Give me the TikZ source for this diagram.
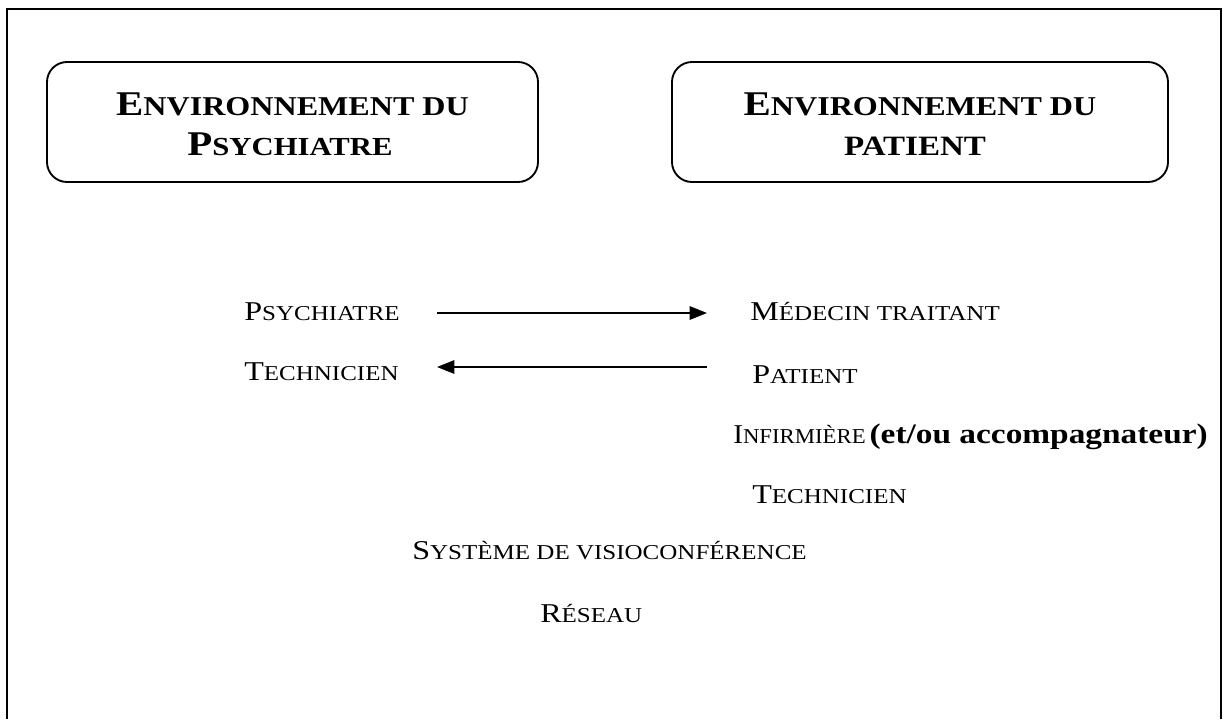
\documentclass[tikz,border=0pt]{standalone}
\usepackage{fontspec}
\usepackage{graphicx}
\setmainfont{Liberation Serif}[FakeStretch=1.18]
\usetikzlibrary{arrows.meta,fit}
\newcommand{\hB}{\fontsize{26}{30}\selectfont}
\newcommand{\hS}{\fontsize{20.4}{24}\selectfont}
\newcommand{\tB}{\fontsize{20.4}{24}\selectfont}
\newcommand{\tS}{\fontsize{15.9}{19}\selectfont}
\newcommand{\tL}{\fontsize{21.2}{24}\selectfont\bfseries}
\tikzset{
  envbox/.style={draw, line width=1.4pt, rounded corners=15pt, inner sep=0pt},
  head/.style={anchor=base, inner sep=0pt, font=\bfseries},
  lbl/.style={anchor=base west, inner sep=0pt},
  flow/.style={line width=1.6pt, -{Triangle[length=13pt,width=10pt]}},
}
\begin{document}
\begin{tikzpicture}[x=0.75pt,y=-0.75pt]
\useasboundingbox (0,0) rectangle (1228,719);
% outer frame (open at bottom)
\draw[line width=1pt] (7,719) -- (7,9) -- (1221,9) -- (1221,719);
% environment boxes
\node[envbox, fit={(47,62) (538,182)}] (lbox) {};
\node[envbox, fit={(672,62) (1168,182)}] (rbox) {};
\node[head] (lh1) at (292.5,115) {\hB E\hS NVIRONNEMENT DU};
\node[head] (lh2) at (290,155) {\hB P\fontsize{19.5}{22}\selectfont SYCHIATRE};
\node[head] (rh1) at (920,115) {\hB E\hS NVIRONNEMENT DU};
\node[head] (rh2) at (915,155) {\fontsize{21}{24}\selectfont PATIENT};
% actors
\node[lbl] (psy) at (244,320) {\tB P\tS SYCHIATRE};
\node[lbl] (tecl) at (244,380) {\tB T\tS ECHNICIEN};
\node[lbl] (med) at (750,320) {\tB M\tS ÉDECIN TRAITANT};
\node[lbl] (pat) at (752,383) {\tB P\tS ATIENT};
\node[lbl] (inf) at (733,443) {\scalebox{0.91}[1]{\tB I\tS NFIRMIÈRE} \tL (et/ou accompagnateur)};
\node[lbl] (tecr) at (752,503) {\tB T\tS ECHNICIEN};
\node[lbl] (sys) at (412,559) {\tB S\tS YSTÈME DE VISIOCONFÉRENCE};
\node[lbl] (res) at (540,622) {\tB R\tS ÉSEAU};
% arrows
\coordinate (a1s) at (437,313);
\coordinate (a1e) at (707,313);
\coordinate (a2s) at (707,367);
\coordinate (a2e) at (437,367);
\draw[flow] (a1s) -- (a1e);
\draw[flow] (a2s) -- (a2e);
\end{tikzpicture}
\end{document}
